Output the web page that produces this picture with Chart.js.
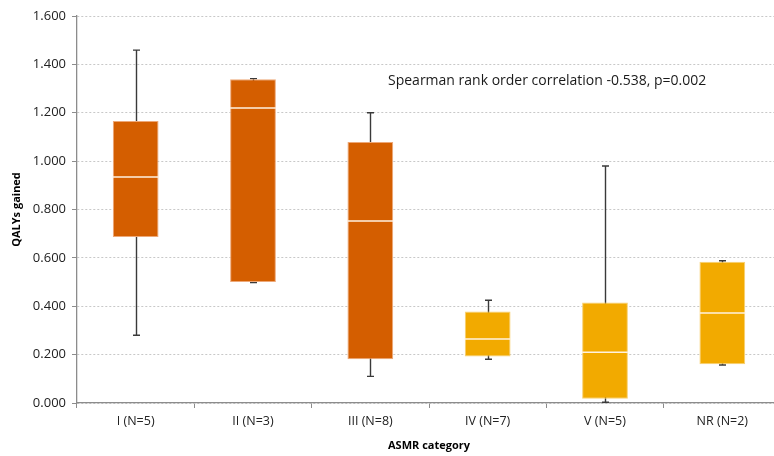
<!DOCTYPE html>
<html>
<head>
<meta charset="utf-8">
<script src="https://cdn.jsdelivr.net/npm/chart.js@4"></script>
<style>
  html, body { margin: 0; padding: 0; background: #fff; overflow: hidden; }
  #wrap { width: 782px; height: 456px; }
</style>
</head>
<body>
<div id="wrap"><canvas id="boxChart" width="782" height="456"></canvas></div>
<script>
const categories = ['I (N=5)', 'II (N=3)', 'III (N=8)', 'IV (N=7)', 'V (N=5)', 'NR (N=2)'];
const minVals    = [0.280, 0.498, 0.110, 0.181, 0.003, 0.157];
const q1Vals     = [0.686, 0.500, 0.181, 0.192, 0.018, 0.160];
const medianVals = [0.934, 1.220, 0.752, 0.265, 0.210, 0.372];
const q3Vals     = [1.166, 1.338, 1.079, 0.378, 0.415, 0.584];
const maxVals    = [1.459, 1.341, 1.200, 0.425, 0.980, 0.588];
const yTicks     = [0, 0.2, 0.4, 0.6, 0.8, 1.0, 1.2, 1.4, 1.6];
const note = 'Spearman rank order correlation -0.538, p=0.002';

const dark = '#D45E00';
const light = '#F2AA00';
const boxColors = categories.map((c, i) => i < 3 ? dark : light);
const boxBorders = categories.map((c, i) => i < 3 ? '#EDA878' : '#F8D070');

// whiskers behind the boxes, medians + note on top
const boxPlugin = {
    id: 'boxParts',
    beforeDatasetsDraw(chart){
        const ctx = chart.ctx;
        const y = chart.scales.y;
        const meta = chart.getDatasetMeta(0);
        ctx.save();
        ctx.strokeStyle = '#3a3a3a';
        ctx.lineWidth = 1.4;
        meta.data.forEach((bar, i) => {
            const x = Math.round(bar.x) + 0.5;
            const top = y.getPixelForValue(maxVals[i]);
            const bot = y.getPixelForValue(minVals[i]);
            ctx.beginPath();
            ctx.moveTo(x, top); ctx.lineTo(x, bot);
            ctx.moveTo(x - 3.5, top); ctx.lineTo(x + 3.5, top);
            ctx.moveTo(x - 3.5, bot); ctx.lineTo(x + 3.5, bot);
            ctx.stroke();
        });
        ctx.restore();
    },
    afterDatasetsDraw(chart){
        const ctx = chart.ctx;
        const y = chart.scales.y;
        const meta = chart.getDatasetMeta(0);
        ctx.save();
        ctx.strokeStyle = '#FFF2E0';
        ctx.lineWidth = 1.5;
        meta.data.forEach((bar, i) => {
            const py = y.getPixelForValue(medianVals[i]);
            ctx.beginPath();
            ctx.moveTo(bar.x - bar.width / 2, py);
            ctx.lineTo(bar.x + bar.width / 2, py);
            ctx.stroke();
        });
        ctx.fillStyle = '#1a1a1a';
        ctx.font = '14px "Open Sans"';
        ctx.textBaseline = 'middle';
        ctx.fillText(note, chart.chartArea.left + 311, y.getPixelForValue(1.33));
        ctx.restore();
    }
};

new Chart(document.getElementById('boxChart'), {
    type: 'bar',
    data: {
        labels: categories,
        datasets: [{
            data: categories.map((c, i) => [q1Vals[i], q3Vals[i]]),
            backgroundColor: boxColors,
            borderColor: boxBorders,
            borderWidth: 1,
            borderSkipped: false,
            categoryPercentage: 1,
            barPercentage: 0.39
        }]
    },
    options: {
        responsive: false,
        animation: false,
        events: [],
        layout: { padding: { top: 16, right: 1, left: 0, bottom: 0 } },
        plugins: { legend: { display: false }, tooltip: { enabled: false } },
        scales: {
            x: {
                grid: { drawOnChartArea: false, drawTicks: true, tickLength: 5, color: '#8c8c8c', offset: true },
                border: { color: '#8c8c8c', width: 1.3 },
                ticks: { color: '#222', font: { family: 'Open Sans', size: 12.5 }, padding: 6 },
                title: { display: true, text: 'ASMR category', color: '#000', font: { family: 'Open Sans', size: 11, weight: 'bold' }, padding: { top: 10 } },
                afterFit(scale){ scale.height = 53; }
            },
            y: {
                min: 0,
                max: 1.6,
                afterBuildTicks(scale){ scale.ticks = yTicks.map(v => ({ value: v })); },
                grid: { color: '#c8c8c8', tickLength: 5, tickColor: '#8c8c8c' },
                border: { color: '#8c8c8c', width: 1.3, dash: [2, 2] },
                ticks: { color: '#222', font: { family: 'Open Sans', size: 13 }, padding: 6,
                         callback: v => v.toFixed(3) },
                title: { display: true, text: 'QALYs gained', color: '#000', font: { family: 'Open Sans', size: 11, weight: 'bold' }, padding: { top: 10, bottom: 2 } },
                afterFit(scale){ scale.width = 77; }
            }
        }
    },
    plugins: [boxPlugin]
});
</script>
</body>
</html>
